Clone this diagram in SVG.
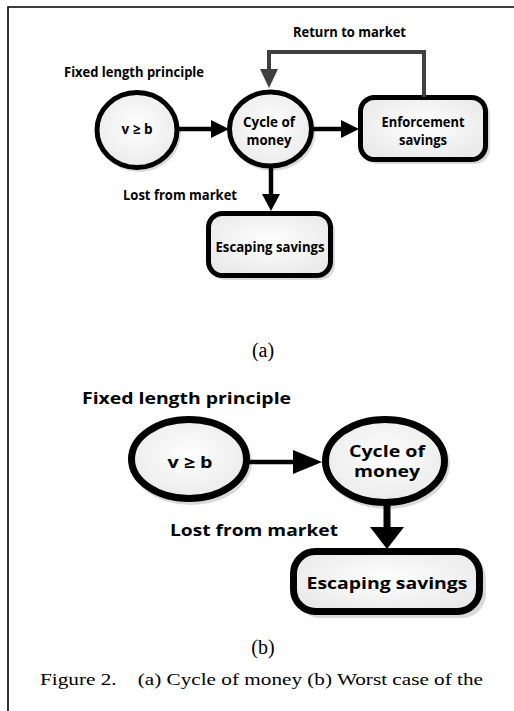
<svg xmlns="http://www.w3.org/2000/svg" width="514" height="711" viewBox="0 0 514 711">
<style>
.lbl{font-family:"Open Sans","Liberation Sans",sans-serif;font-weight:bold;fill:#000}
.a{font-size:14px}
.b{font-size:16px}
.cap{font-family:"Liberation Serif",serif;fill:#000}
.node{stroke:#000;fill:url(#g)}
.shadow{fill:#dadada;stroke:none}
.conn{stroke:#000;fill:none}
</style>
<defs>
<radialGradient id="g" cx="0.5" cy="0.45" r="0.6">
<stop offset="0" stop-color="#ffffff"/>
<stop offset="1" stop-color="#e9e9e9"/>
</radialGradient>
</defs>
<rect x="0" y="0" width="514" height="711" fill="#fff"/>
<g id="frame" stroke="#000" stroke-width="1.6" fill="none">
<path d="M8,711 V7 H514"/>
</g>

<!-- Part (a) -->
<g id="a-label-fixed"><text class="lbl a" x="64" y="77" textLength="140" lengthAdjust="spacingAndGlyphs">Fixed length principle</text></g>
<g id="a-label-return"><text class="lbl a" x="293" y="37" textLength="113" lengthAdjust="spacingAndGlyphs">Return to market</text></g>
<g id="a-label-lost"><text class="lbl a" x="123" y="200" textLength="114" lengthAdjust="spacingAndGlyphs">Lost from market</text></g>

<g id="a-vb">
<ellipse class="shadow" cx="139" cy="133" rx="42" ry="39"/>
<ellipse class="node" cx="137" cy="130" rx="40" ry="37.5" stroke-width="5"/>
<text class="lbl a" x="137" y="134" text-anchor="middle" textLength="31" lengthAdjust="spacingAndGlyphs">v ≥ b</text>
</g>
<g id="a-cycle">
<ellipse class="shadow" cx="272.5" cy="132" rx="43" ry="39"/>
<ellipse class="node" cx="270.5" cy="129" rx="41" ry="37" stroke-width="5"/>
<text class="lbl a" x="269" y="127" text-anchor="middle" textLength="52" lengthAdjust="spacingAndGlyphs">Cycle of</text>
<text class="lbl a" x="269" y="145" text-anchor="middle" textLength="45" lengthAdjust="spacingAndGlyphs">money</text>
</g>
<g id="a-enforcement">
<rect class="shadow" x="362" y="100" width="128" height="64" rx="15"/>
<rect class="node" x="360.5" y="97.5" width="125" height="62" rx="14" stroke-width="5"/>
<text class="lbl a" x="423" y="127" text-anchor="middle" textLength="83" lengthAdjust="spacingAndGlyphs">Enforcement</text>
<text class="lbl a" x="423" y="145" text-anchor="middle" textLength="48" lengthAdjust="spacingAndGlyphs">savings</text>
</g>
<g id="a-escaping">
<rect class="shadow" x="210" y="216" width="125" height="64" rx="15"/>
<rect class="node" x="208.5" y="213.5" width="122" height="62" rx="14" stroke-width="5"/>
<text class="lbl a" x="270" y="252" text-anchor="middle" textLength="109" lengthAdjust="spacingAndGlyphs">Escaping savings</text>
</g>

<!-- Part (b) -->
<g id="b-label-fixed"><text class="lbl b" x="82" y="404" textLength="209" lengthAdjust="spacingAndGlyphs">Fixed length principle</text></g>
<g id="b-label-lost"><text class="lbl b" x="170" y="536" textLength="168" lengthAdjust="spacingAndGlyphs">Lost from market</text></g>

<g id="b-vb">
<ellipse class="shadow" cx="191" cy="462" rx="61" ry="43"/>
<ellipse class="node" cx="189" cy="459" rx="57.5" ry="39.5" stroke-width="7"/>
<text class="lbl b" x="190" y="468" text-anchor="middle" textLength="45" lengthAdjust="spacingAndGlyphs">v ≥ b</text>
</g>
<g id="b-cycle">
<ellipse class="shadow" cx="387" cy="464" rx="63" ry="45"/>
<ellipse class="node" cx="385" cy="461" rx="59.5" ry="41.5" stroke-width="7"/>
<text class="lbl b" x="387" y="457" text-anchor="middle" textLength="76" lengthAdjust="spacingAndGlyphs">Cycle of</text>
<text class="lbl b" x="387" y="477" text-anchor="middle" textLength="66" lengthAdjust="spacingAndGlyphs">money</text>
</g>
<g id="b-escaping">
<rect class="shadow" x="296" y="555" width="190" height="63" rx="24"/>
<rect class="node" x="293.5" y="551.5" width="186" height="60" rx="22" stroke-width="7"/>
<text class="lbl b" x="387" y="589" text-anchor="middle" textLength="161" lengthAdjust="spacingAndGlyphs">Escaping savings</text>
</g>

<g id="connectors">
<line class="conn" x1="179" y1="129" x2="214" y2="129" stroke-width="4.5"/>
<polygon points="211,120 229,129 211,138" fill="#000"/>
<line class="conn" x1="313" y1="129" x2="344" y2="129" stroke-width="4.5"/>
<polygon points="341,120 359,129 341,138" fill="#000"/>
<line class="conn" x1="271" y1="166" x2="271" y2="196" stroke-width="4.5"/>
<polygon points="262,194 271,211 280,194" fill="#000"/>
<polyline points="424,97 424,52 269,52 269,71" fill="none" stroke="#404040" stroke-width="4"/>
<polygon points="260,69 269,88 278,69" fill="#404040"/>
<line class="conn" x1="248" y1="462" x2="296" y2="462" stroke-width="4.5"/>
<polygon points="293,450 322,462 293,474" fill="#000"/>
<line class="conn" x1="387" y1="503" x2="387" y2="530" stroke-width="7"/>
<polygon points="370,527 387,549 404,527" fill="#000"/>
</g>

<g id="captions">
<text class="cap" x="263" y="357" font-size="20" text-anchor="middle">(a)</text>
<text class="cap" x="263" y="654" font-size="20" text-anchor="middle">(b)</text>
<text class="cap" x="40" y="685" font-size="16.5" textLength="443" lengthAdjust="spacingAndGlyphs" xml:space="preserve">Figure 2.    (a) Cycle of money (b) Worst case of the</text>
</g>
</svg>
